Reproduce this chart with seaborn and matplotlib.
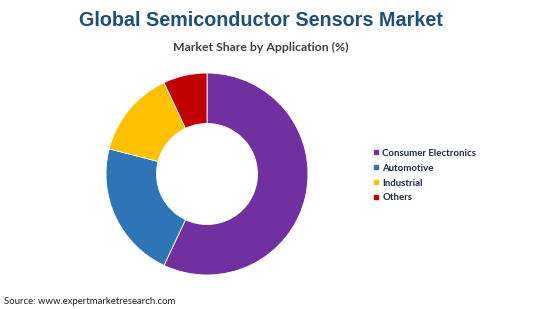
import matplotlib
matplotlib.use("Agg")
import matplotlib.pyplot as plt
from matplotlib.lines import Line2D
import seaborn as sns

categories = ["Consumer Electronics", "Automotive", "Industrial", "Others"]
shares = [57, 22, 14, 7]
colors = ["#7030A0", "#2E75B6", "#FFC000", "#C00000"]

sns.set_theme(style="white")
plt.rcParams['font.family'] = ['Liberation Sans', 'DejaVu Sans']

fig = plt.figure(figsize=(5.5, 3.09), dpi=100)
fig.patch.set_facecolor("white")

cx, cy, r = 207, 174, 101
W, H = 550, 309
ax = fig.add_axes([(cx - r) / W, (H - cy - r) / H, 2 * r / W, 2 * r / H])
ax.pie(shares, colors=colors, startangle=90, counterclock=False,
       wedgeprops=dict(width=0.5, edgecolor="white", linewidth=0.6))
ax.set_aspect("equal")
ax.set_xlim(-1, 1)
ax.set_ylim(-1, 1)
ax.axis("off")

fig.text(261 / W, 1 - 20 / H, "Global Semiconductor Sensors Market", ha="center", va="center",
         fontsize=14.2, fontweight="bold", color="#1F4E79", family=["Liberation Sans"])
fig.text(261 / W, 1 - 47 / H, "Market Share by Application (%)", ha="center", va="center",
         fontsize=8.8, fontweight="bold", color="#404040", family=["Lato", "DejaVu Sans"])

handles = [Line2D([0], [0], marker="s", linestyle="none", markersize=3.5,
                  markerfacecolor=c, markeredgecolor=c) for c in colors]
leg = fig.legend(handles, categories, loc="upper left",
                 bbox_to_anchor=(364 / W, 1 - 140 / H), frameon=False,
                 handlelength=0.6, handletextpad=0.4, labelspacing=0.62,
                 prop=dict(family="Lato", weight="bold", size=6.9))
for t in leg.get_texts():
    t.set_color("#1F2A44")

fig.text(4 / W, 1 - 301 / H, "Source: www.expertmarketresearch.com", ha="left", va="center",
         fontsize=6.9, color="#222222", family=["Lato", "DejaVu Sans"])

fig.savefig("out.png", dpi=100, facecolor="white")
